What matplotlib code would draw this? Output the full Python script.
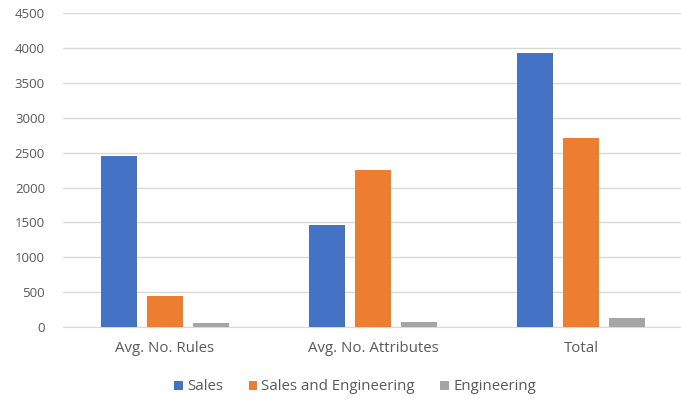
import matplotlib
matplotlib.use("Agg")
import matplotlib.pyplot as plt
import numpy as np

categories = ["Avg. No. Rules", "Avg. No. Attributes", "Total"]
series_names = ["Sales", "Sales and Engineering", "Engineering"]
sales = [2450, 1460, 3935]
sales_eng = [445, 2245, 2710]
engineering = [55, 65, 135]

colors = ["#4472C4", "#ED7D31", "#A5A5A5"]
text_color = "#595959"

plt.rcParams["font.family"] = ["Open Sans", "DejaVu Sans"]

fig = plt.figure(figsize=(6.81, 4.01), dpi=100)
ax = fig.add_axes([63 / 681, 74 / 401, 618 / 681, 313.7 / 401])

x = np.arange(len(categories))
width = 0.173
step = 0.221
for i, (vals, name) in enumerate(zip([sales, sales_eng, engineering], series_names)):
    ax.bar(x + (i - 1) * step, vals, width, color=colors[i], label=name, zorder=3)

ax.set_xlim(-0.49, 2.481)
ax.set_ylim(0, 4500)
ax.set_yticks(np.arange(0, 4501, 500))
ax.set_xticks(x)
ax.set_xticklabels(categories)
ax.yaxis.grid(True, color="#d9d9d9", linewidth=1, zorder=0)
for s in ["top", "right", "left"]:
    ax.spines[s].set_visible(False)
ax.spines["bottom"].set_color("#d9d9d9")
ax.tick_params(axis="y", length=0, pad=13, labelsize=9.5, labelcolor=text_color)
ax.tick_params(axis="x", length=0, pad=10, labelsize=10.8, labelcolor=text_color)

fig.legend(loc="center", bbox_to_anchor=(355 / 681, 14 / 401), ncol=3,
           frameon=False, handlelength=0.55, handleheight=0.55, handletextpad=0.3,
           columnspacing=1.7, fontsize=10.8, labelcolor=text_color)

fig.savefig("out.png", dpi=100)
